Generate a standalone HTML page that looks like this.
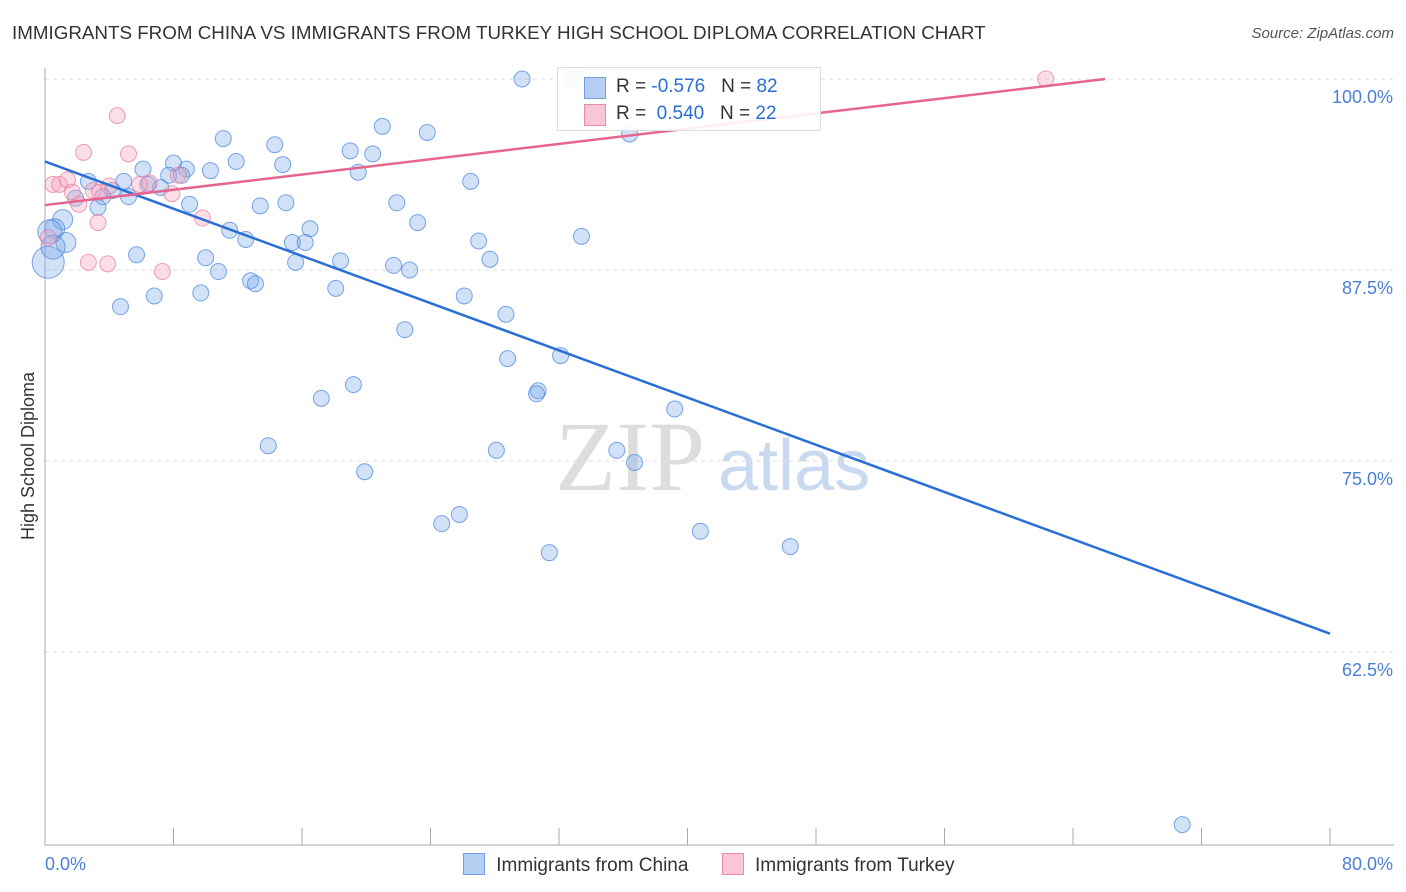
<!DOCTYPE html>
<html><head><meta charset="utf-8"><style>
body{margin:0;background:#fff;font-family:"Liberation Sans",sans-serif;}
#wrap{position:relative;width:1406px;height:892px;overflow:hidden;}
.t{position:absolute;white-space:nowrap;}
</style></head><body>
<div id="wrap">
<div class="t" style="left:12px;top:22px;font-size:18.8px;color:#333;">IMMIGRANTS FROM CHINA VS IMMIGRANTS FROM TURKEY HIGH SCHOOL DIPLOMA CORRELATION CHART</div>
<div class="t" style="right:12px;top:25px;font-size:15px;color:#555;font-style:italic;">Source: ZipAtlas.com</div>
<svg id="svg" width="1406" height="892" style="position:absolute;left:0;top:0"></svg>
</div>
<script>
const chinaX=[29.7,32.9,34.4,36.4,11.1,14.3,21.0,23.8,19.0,20.4,8.0,11.9,14.8,6.1,8.8,10.3,19.5,7.7,8.5,26.5,2.7,4.9,6.4,7.2,4.2,1.9,3.6,5.2,3.3,9.0,13.4,15.0,21.9,1.1,0.6,23.2,16.5,11.5,12.5,15.4,16.2,27.0,33.4,1.3,5.7,10.0,15.6,18.4,21.7,22.7,27.7,10.8,12.8,13.1,18.1,6.8,9.7,26.1,4.7,28.7,22.4,28.8,32.1,19.2,17.2,30.7,30.6,39.2,13.9,28.1,35.6,36.7,19.9,25.8,24.7,31.4,40.8,46.4,70.8,0.2,0.3,0.5];
const chinaY=[100,100,99.4,96.4,96.1,95.7,96.9,96.5,95.3,95.1,94.5,94.6,94.4,94.1,94.1,94.0,93.9,93.7,93.7,93.3,93.3,93.3,93.1,92.9,92.7,92.2,92.3,92.3,91.6,91.8,91.7,91.9,91.9,90.8,90.2,90.6,90.2,90.1,89.5,89.3,89.3,89.4,89.7,89.3,88.5,88.3,88.0,88.1,87.8,87.5,88.2,87.4,86.8,86.6,86.3,85.8,86.0,85.8,85.1,84.6,83.6,81.7,81.9,80.0,79.1,79.6,79.4,78.4,76.0,75.7,75.7,74.9,74.3,71.5,70.9,69.0,70.4,69.4,51.2,88.0,90.0,89.0];
const chinaR=[8,8,8,8,8,8,8,8,8,8,8,8,8,8,8,8,8,8,8,8,8,8,8,8,8,8,8,8,8,8,8,8,8,10,10,8,8,8,8,8,8,8,8,10,8,8,8,8,8,8,8,8,8,8,8,8,8,8,8,8,8,8,8,8,8,8,8,8,8,8,8,8,8,8,8,8,8,8,8,16,12,12];
const turkeyX=[62.3,4.5,2.4,5.2,0.5,0.9,1.4,3.0,4.0,5.9,8.3,7.9,2.1,3.3,9.8,2.7,3.9,7.3,0.2,6.5,3.4,1.7];
const turkeyY=[100,97.6,95.2,95.1,93.1,93.1,93.4,92.7,93.0,93.1,93.7,92.5,91.8,90.6,90.9,88.0,87.9,87.4,89.6,93.2,92.6,92.6];
const chinaTrend=[0,94.6,80,63.7];
const turkeyTrend=[0,91.75,66,100];
const yTicks=[100,87.5,75,62.5];
const yTickLabels=["100.0%","87.5%","75.0%","62.5%"];
const xTicks=[0,8,16,24,32,40,48,56,64,72,80];

const X=v=>45+v*(1330-45)/80;
const Y=v=>79+(100-v)*15.28;
const svg=document.getElementById('svg');
const NS='http://www.w3.org/2000/svg';
function mk(tag,attrs,parent){const e=document.createElementNS(NS,tag);for(const k in attrs)e.setAttribute(k,attrs[k]);(parent||svg).appendChild(e);return e;}

let wm=mk('text',{x:555,y:490,'font-size':100,fill:'#ddd','font-family':'Liberation Serif, serif'});wm.textContent='ZIP';


let wm2=mk('text',{x:718,y:490,'font-size':72,fill:'#c9d9f0','font-family':'Liberation Sans, sans-serif'});wm2.textContent='atlas';



yTicks.forEach((v,i)=>{
  const g=mk('line',{x1:45,x2:1394,y1:Y(v),y2:Y(v),stroke:'#ddd','stroke-dasharray':'4,4'});
  
  
  const t=mk('text',{x:1393,y:Y(v)+24,'text-anchor':'end','font-size':18,fill:'#4a7fd6'});
  t.textContent=yTickLabels[i];
  
  
});
mk('line',{x1:45,x2:45,y1:68,y2:845,stroke:'#aaa'});
mk('line',{x1:45,x2:1394,y1:845,y2:845,stroke:'#aaa'});
xTicks.forEach(v=>{
  const l=mk('line',{x1:X(v),x2:X(v),y1:828,y2:845,stroke:'#aaa'});
  
  
});
let xl=mk('text',{x:45,y:870,'font-size':18,fill:'#4a7fd6'});xl.textContent='0.0%';


let xr=mk('text',{x:1393,y:870,'text-anchor':'end','font-size':18,fill:'#4a7fd6'});xr.textContent='80.0%';


let yt=mk('text',{x:34,y:456,'text-anchor':'middle','font-size':18,fill:'#333',transform:'rotate(-90 34 456)'});yt.textContent='High School Diploma';



chinaX.forEach((x,i)=>{
  const c=mk('circle',{cx:X(x),cy:Y(chinaY[i]),r:chinaR[i],fill:'rgba(120,170,235,0.35)',stroke:'rgba(70,130,220,0.7)','stroke-width':1});
  
  
});
turkeyX.forEach((x,i)=>{
  const c=mk('circle',{cx:X(x),cy:Y(turkeyY[i]),r:8,fill:'rgba(245,160,185,0.35)',stroke:'rgba(230,120,155,0.7)','stroke-width':1});
  
  
});
const bl=mk('line',{x1:X(chinaTrend[0]),y1:Y(chinaTrend[1]),x2:X(chinaTrend[2]),y2:Y(chinaTrend[3]),stroke:'#2a6fd6','stroke-width':2.5});


const pl=mk('line',{x1:X(turkeyTrend[0]),y1:Y(turkeyTrend[1]),x2:X(turkeyTrend[2]),y2:Y(turkeyTrend[3]),stroke:'#e5658f','stroke-width':2.5});


</script>
<div class="t" style="left:557px;top:67px;width:262px;height:62px;background:rgba(255,255,255,0.9);border:1px solid #ddd;font-size:19px;">
 <div style="position:absolute;left:26px;top:9px;width:20px;height:20px;background:#b5cff2;border:1px solid #6f9fe0"></div>
 <div style="position:absolute;left:58px;top:8px;color:#333">R = <span style="color:#2a6fd6">-0.576</span>&nbsp;&nbsp;&nbsp;N = <span style="color:#2a6fd6">82</span></div>
 <div style="position:absolute;left:26px;top:36px;width:20px;height:20px;background:#f8c6d4;border:1px solid #e88aa8"></div>
 <div style="position:absolute;left:58px;top:35px;color:#333">R = &nbsp;<span style="color:#2a6fd6">0.540</span>&nbsp;&nbsp;&nbsp;N = <span style="color:#2a6fd6">22</span></div>
</div>
<div class="t" style="left:463px;top:853px;font-size:19px;color:#333">
 <span style="display:inline-block;width:20px;height:20px;background:#b5cff2;border:1px solid #6f9fe0;vertical-align:-4px"></span>
 <span style="margin-left:6px">Immigrants from China</span>
 <span style="display:inline-block;width:20px;height:20px;background:#f8c6d4;border:1px solid #e88aa8;vertical-align:-4px;margin-left:28px"></span>
 <span style="margin-left:6px">Immigrants from Turkey</span>
</div>
</body></html>
